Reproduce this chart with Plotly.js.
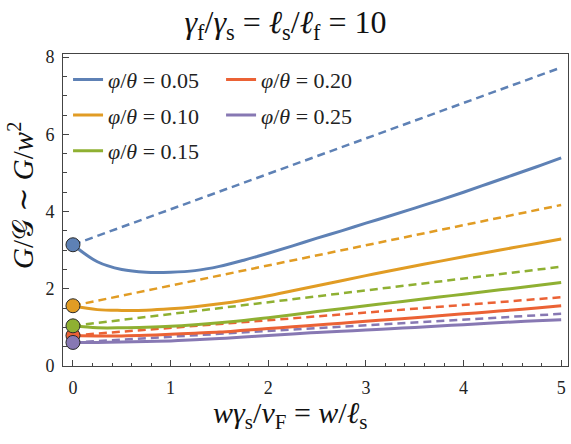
<!DOCTYPE html>
<html>
<head>
<meta charset="utf-8">
<script src="https://cdn.plot.ly/plotly-3.0.1.min.js"></script>
<style>
  html, body { margin: 0; padding: 0; background: #fff; }
  #chart { width: 571px; height: 444px; }
</style>
</head>
<body>
<div id="chart"></div>
<script>
// Conductance ratio versus channel width, for several values of phi/theta.
const ratioLabels = ['0.05', '0.10', '0.15', '0.20', '0.25'];
const seriesColors = ['#5E81B5', '#E19C24', '#8FB032', '#EB6235', '#8778B3'];

// Width grid for the full curves
const widthGrid = [0, 0.25, 0.5, 0.75, 1.0, 1.25, 1.5, 1.75, 2.0, 2.25, 2.5, 2.75, 3.0, 3.25, 3.5, 3.75, 4.0, 4.25, 4.5, 4.75, 5.0];

// Full solution (solid curves)
const solid005 = [3.14, 2.70, 2.50, 2.43, 2.43, 2.47, 2.58, 2.74, 2.92, 3.11, 3.31, 3.50, 3.70, 3.89, 4.09, 4.29, 4.50, 4.72, 4.94, 5.16, 5.39];
const solid010 = [1.56, 1.46, 1.44, 1.445, 1.48, 1.535, 1.61, 1.705, 1.82, 1.95, 2.08, 2.21, 2.34, 2.465, 2.59, 2.71, 2.83, 2.945, 3.06, 3.175, 3.29];
const solid015 = [1.04, 0.99, 0.99, 1.005, 1.03, 1.07, 1.12, 1.18, 1.25, 1.33, 1.41, 1.485, 1.56, 1.635, 1.71, 1.785, 1.86, 1.935, 2.01, 2.085, 2.16];
const solid020 = [0.79, 0.78, 0.78, 0.795, 0.82, 0.85, 0.88, 0.925, 0.97, 1.015, 1.06, 1.11, 1.16, 1.205, 1.25, 1.30, 1.35, 1.40, 1.45, 1.505, 1.56];
const solid025 = [0.61, 0.61, 0.62, 0.632, 0.65, 0.68, 0.71, 0.75, 0.79, 0.83, 0.87, 0.90, 0.93, 0.965, 1.00, 1.035, 1.07, 1.105, 1.14, 1.17, 1.20];
const solidSeries = [solid005, solid010, solid015, solid020, solid025];

// Straight-line approximation (dashed), given by its end points
const dashedWidth = [0, 5];
const dashed005 = [3.14, 7.73];
const dashed010 = [1.56, 4.17];
const dashed015 = [1.04, 2.57];
const dashed020 = [0.79, 1.78];
const dashed025 = [0.61, 1.35];
const dashedSeries = [dashed005, dashed010, dashed015, dashed020, dashed025];

// Zero-width limit (filled circles)
const limitWidth = [0];
const limitValues = [3.14, 1.56, 1.04, 0.79, 0.61];
const circleOrder = [0, 1, 3, 2, 4];

const serif = 'Liberation Serif, DejaVu Serif, serif';
const traces = [];

dashedSeries.forEach((ys, i) => {
  traces.push({
    x: dashedWidth, y: ys, type: 'scatter', mode: 'lines',
    line: { color: seriesColors[i], width: 2.5, dash: '8px,5px' },
    showlegend: false, hoverinfo: 'skip'
  });
});

solidSeries.forEach((ys, i) => {
  traces.push({
    x: widthGrid, y: ys, type: 'scatter', mode: 'lines',
    line: { color: seriesColors[i], width: 3, shape: 'spline', smoothing: 1 },
    name: '<i>φ</i>/<i>θ</i> = ' + ratioLabels[i],
    legend: i < 3 ? 'legend' : 'legend2',
    legendgroup: 'g' + i,
    showlegend: true
  });
});

circleOrder.forEach(i => {
  traces.push({
    x: limitWidth, y: [limitValues[i]], type: 'scatter', mode: 'markers',
    marker: { size: 14, color: seriesColors[i], line: { color: '#2a2a2a', width: 1 } },
    showlegend: false, cliponaxis: false
  });
});

const axisCommon = {
  showline: true, linecolor: '#444', linewidth: 1, mirror: true,
  ticks: 'inside', ticklen: 6, tickcolor: '#444', tickwidth: 1,
  showgrid: false, zeroline: false,
  tickfont: { family: serif, size: 18, color: '#222' }
};

const legendCommon = {
  bgcolor: 'rgba(0,0,0,0)', borderwidth: 0,
  font: { family: serif, size: 22, color: '#222' },
  xanchor: 'left', yanchor: 'top', tracegroupgap: 4,
  itemclick: false, itemdoubleclick: false
};

const layout = {
  width: 571, height: 444,
  margin: { l: 63, r: 3, t: 54, b: 78, pad: 0 },
  paper_bgcolor: '#fff', plot_bgcolor: '#fff',
  font: { family: serif },
  title: {
    text: '<i>γ</i><sub>f</sub>/<i>γ</i><sub>s</sub> = <i>ℓ</i><sub>s</sub>/<i>ℓ</i><sub>f</sub> = 10',
    x: 0.5, xref: 'container', xanchor: 'center',
    y: 0.95, yref: 'container', yanchor: 'middle',
    font: { family: serif, size: 32, color: '#111' }
  },
  xaxis: Object.assign({}, axisCommon, {
    range: [-0.102, 5.07], tick0: 0, dtick: 1, ticklabelstandoff: 5,
    minor: { dtick: 0.2, tick0: 0, ticks: 'inside', ticklen: 3.5, tickcolor: '#444' }
  }),
  yaxis: Object.assign({}, axisCommon, {
    range: [0, 8.08], tick0: 0, dtick: 2, ticklabelstandoff: 4,
    minor: { dtick: 0.5, tick0: 0, ticks: 'inside', ticklen: 3.5, tickcolor: '#444' }
  }),
  legend: Object.assign({}, legendCommon, { x: 0.01, y: 0.985 }),
  legend2: Object.assign({}, legendCommon, { x: 0.313, y: 0.985 }),
  annotations: [
    {
      text: '<i>wγ</i><sub>s</sub>/<i>v</i><sub>F</sub> = <i>w</i>/<i>ℓ</i><sub>s</sub>',
      xref: 'paper', yref: 'paper', x: 0.4495, y: -0.157,
      xanchor: 'center', yanchor: 'middle', showarrow: false,
      font: { family: serif, size: 30, color: '#111' }
    },
    {
      text: '<i>G</i>/𝒢 ∼ <i>G</i>/<i>w</i><sup>2</sup>',
      xref: 'paper', yref: 'paper', x: -0.083, y: 0.545,
      xanchor: 'center', yanchor: 'middle', textangle: -90, showarrow: false,
      font: { family: serif, size: 29, color: '#111' }
    }
  ],
  showlegend: true
};

Plotly.newPlot('chart', traces, layout, { displayModeBar: false, staticPlot: true });
</script>
</body>
</html>
